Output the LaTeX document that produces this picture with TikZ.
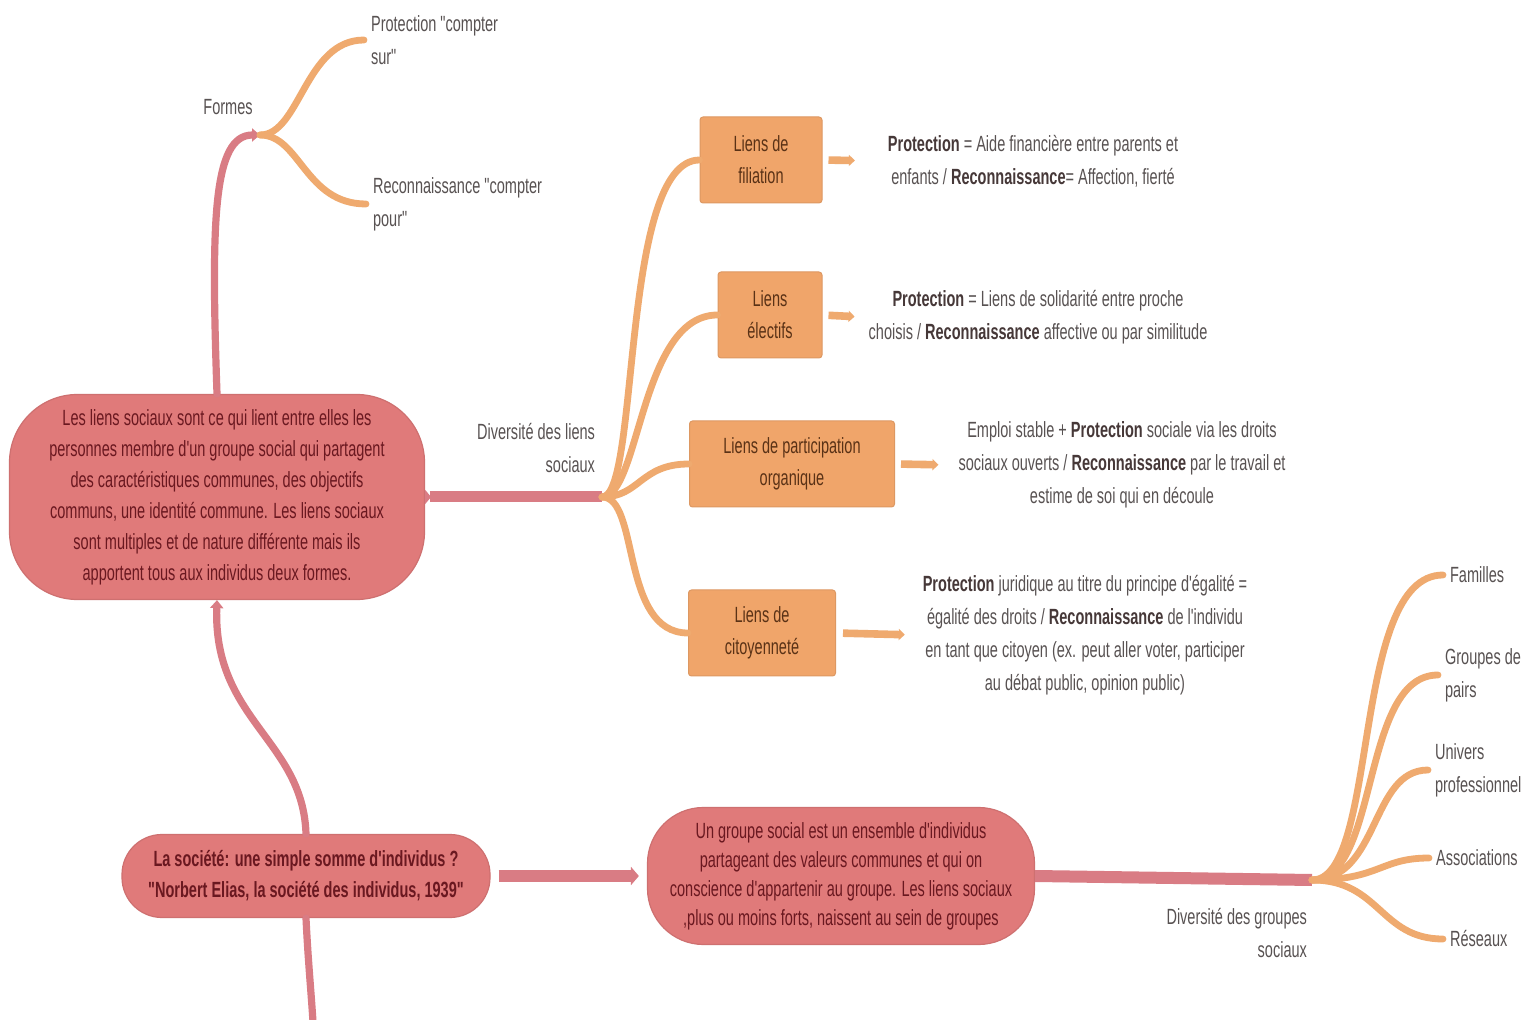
\documentclass[tikz,border=0pt]{standalone}
\usepackage{fontspec}
\setmainfont{Liberation Sans}[FakeStretch=0.66]
\newfontfamily\plainfont{Liberation Sans}[FakeStretch=0.66]
\usetikzlibrary{arrows.meta}
\definecolor{pinkfill}{HTML}{E07A7A}
\definecolor{pinkline}{HTML}{D97C84}
\definecolor{pinktext}{HTML}{6A1820}
\definecolor{orfill}{HTML}{F0A56A}
\definecolor{orline}{HTML}{EFAA6F}
\definecolor{ortext}{HTML}{5A3216}
\definecolor{graytext}{HTML}{585252}
\definecolor{darktext}{HTML}{463838}
\newcommand\boldterm[1]{\textcolor{darktext}{\textbf{#1}}}
\begin{document}
\begin{tikzpicture}[x=0.5pt,y=-0.5pt,
  mainnode/.style={fill=pinkfill, draw=pinkfill!92!black, line width=0.6pt, text=pinktext, align=center, inner sep=0pt, font=\plainfont\fontsize{11}{15.5}\selectfont},
  orbox/.style={fill=orfill, draw=orfill!92!black, line width=0.5pt, text=ortext, align=center, inner sep=0pt, rounded corners=1.5pt, minimum height=43pt, font=\plainfont\fontsize{11}{16}\selectfont},
  desc/.style={text=graytext, align=center, font=\plainfont\fontsize{11}{16.5}\selectfont},
  lbl/.style={text=graytext, font=\plainfont\fontsize{11}{16.5}\selectfont},
  pinkc/.style={draw=pinkline, line width=3.6pt, line cap=round},
  pinkbar/.style={draw=pinkline, line width=5.5pt},
  orc/.style={draw=orline, line width=3.4pt, line cap=round},
  orarrow/.style={draw=orline, line width=3.8pt, -{Triangle[length=3pt,width=5.5pt]}},
]
\useasboundingbox[fill=white] (0,0) rectangle (1526,1020);

% main nodes
\node[mainnode, minimum width=207.5pt, minimum height=102.5pt, rounded corners=34pt] (main) at (217,497)
  {Les liens sociaux sont ce qui lient entre elles les\\personnes membre d'un groupe social qui partagent\\des caractéristiques communes, des objectifs\\communs, une identité commune. Les liens sociaux\\sont multiples et de nature différente mais ils\\apportent tous aux individus deux formes.};
\node[mainnode, font=\plainfont\bfseries\fontsize{11}{15.5}\selectfont, minimum width=184pt, minimum height=41.5pt, rounded corners=20pt] (soc) at (306,876)
  {La société: une simple somme d'individus ?\\"Norbert Elias, la société des individus, 1939"};
\node[mainnode, font=\plainfont\fontsize{11}{14.5}\selectfont, minimum width=193.5pt, minimum height=68.5pt, rounded corners=28pt] (grp) at (841,876)
  {Un groupe social est un ensemble d'individus\\partageant des valeurs communes et qui on\\conscience d'appartenir au groupe. Les liens sociaux\\,plus ou moins forts, naissent au sein de groupes};

% orange boxes
\node[orbox, minimum width=61pt] (fil) at (761,160) {Liens de\\filiation};
\node[orbox, minimum width=52pt] (ele) at (770,315) {Liens\\électifs};
\node[orbox, minimum width=102.5pt] (org) at (792,464) {Liens de participation\\organique};
\node[orbox, minimum width=73.5pt] (cit) at (762,633) {Liens de\\citoyenneté};

% descriptions
\node[desc] (dfil) at (1033,161) {\boldterm{Protection} = Aide financière entre parents et\\enfants / \boldterm{Reconnaissance}= Affection, fierté};
\node[desc] (dele) at (1038,317) {\boldterm{Protection} = Liens de solidarité entre proche\\choisis / \boldterm{Reconnaissance} affective ou par similitude};
\node[desc] (dorg) at (1122,465) {Emploi stable + \boldterm{Protection} sociale via les droits\\sociaux ouverts / \boldterm{Reconnaissance} par le travail et\\estime de soi qui en découle};
\node[desc] (dcit) at (1085,635) {\boldterm{Protection} juridique au titre du principe d'égalité =\\égalité des droits / \boldterm{Reconnaissance} de l'individu\\en tant que citoyen (ex. peut aller voter, participer\\au débat public, opinion public)};

% labels
\node[lbl] (formes) at (228,107) {Formes};
\node[lbl, anchor=west, align=left] (psur) at (364,40) {Protection "compter\\sur"};
\node[lbl, anchor=west, align=left] (ppour) at (366,204) {Reconnaissance "compter\\pour"};
\node[lbl, anchor=east, align=right] (divl) at (602,448) {Diversité des liens\\sociaux};
\node[lbl, anchor=east, align=right] (divg) at (1314,933) {Diversité des groupes\\sociaux};
\node[lbl, anchor=west] (fam) at (1443,575) {Familles};
\node[lbl, anchor=west, align=left] (pairs) at (1438,675) {Groupes de\\pairs};
\node[lbl, anchor=west, align=left] (univ) at (1428,770) {Univers\\professionnel};
\node[lbl, anchor=west] (assoc) at (1429,858) {Associations};
\node[lbl, anchor=west] (res) at (1443,939) {Réseaux};

% junction coordinates
\coordinate (fj) at (260,135);
\coordinate (dj) at (602,497);
\coordinate (gj) at (1312,880);
\coordinate (bot) at (313,1022);

% pink connectors
\draw[pinkc, -{Triangle[length=4pt,width=6.5pt]}] (main.north) .. controls (211,220) and (213,135) .. (fj);
\draw[pinkc, -{Triangle[length=4pt,width=6.5pt]}] (soc.north) .. controls (303,740) and (213,720) .. (main.south);
\draw[pinkc] (soc.south) .. controls (308,960) and (311,990) .. (bot);
\draw[pinkbar, {Triangle[length=3pt,width=7pt,reversed]}-] (main.east) -- (dj);
\draw[pinkbar, line width=6pt, shorten <=4pt, shorten >=4pt, -{Triangle[length=4pt,width=9pt]}] (soc.east) -- (grp.west);
\draw[pinkbar, line width=6pt] (grp.east) -- (gj);

% orange forks
\draw[orc] (fj) .. controls (300,135) and (305,40) .. (psur.west);
\draw[orc] (fj) .. controls (300,135) and (305,204) .. (ppour.west);
\draw[orc] (dj) .. controls (640,497) and (620,160) .. (fil.west);
\draw[orc] (dj) .. controls (640,497) and (640,315) .. (ele.west);
\draw[orc] (dj) .. controls (640,497) and (640,464) .. (org.west);
\draw[orc] (dj) .. controls (640,497) and (620,633) .. (cit.west);
\draw[orc] (gj) .. controls (1380,880) and (1350,575) .. (fam.west);
\draw[orc] (gj) .. controls (1380,880) and (1360,675) .. (pairs.west);
\draw[orc] (gj) .. controls (1380,880) and (1370,770) .. (univ.west);
\draw[orc] (gj) .. controls (1380,880) and (1380,858) .. (assoc.west);
\draw[orc] (gj) .. controls (1380,880) and (1380,939) .. (res.west);

% description arrows
\draw[orarrow, shorten <=3pt, shorten >=13pt] (fil.east) -- (dfil.west);
\draw[orarrow, shorten <=3pt, shorten >=3.5pt] (ele.east) -- (dele.west);
\draw[orarrow, shorten <=3pt, shorten >=6.5pt] (org.east) -- (dorg.west);
\draw[orarrow, shorten <=3.5pt, shorten >=5.5pt] (cit.east) -- (dcit.west);
\end{tikzpicture}
\end{document}
